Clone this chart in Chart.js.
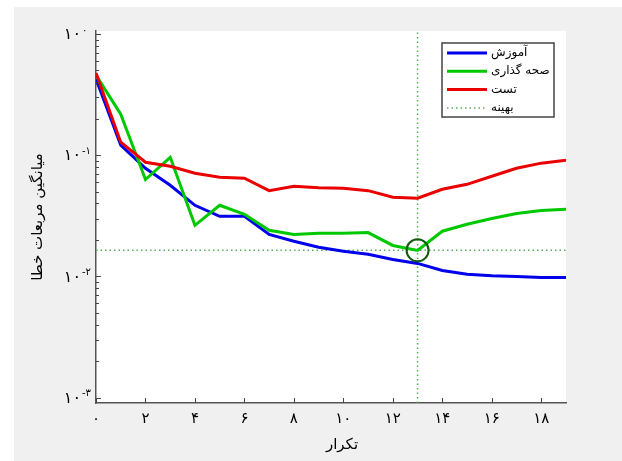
<!DOCTYPE html>
<html>
<head>
<meta charset="utf-8">
<script src="https://cdn.jsdelivr.net/npm/chart.js@4.4.1/dist/chart.umd.min.js"></script>
<style>
html, body { margin: 0; padding: 0; background: #fff; }
#wrap { position: absolute; left: 14px; top: 7px; width: 608px; height: 454px; background: #f0f0f0; }
</style>
</head>
<body>
<div id="wrap"><canvas id="perfChart" width="608" height="454"></canvas></div>
<script>
// epochs and mean squared error per data split
const epochs = [0, 1, 2, 3, 4, 5, 6, 7, 8, 9, 10, 11, 12, 13, 14, 15, 16, 17, 18, 19];
const trainErr = [0.425, 0.121, 0.078, 0.0565, 0.0386, 0.0313, 0.0313, 0.0222, 0.0195, 0.0174,
                  0.0161, 0.0152, 0.0138, 0.0128, 0.0112, 0.0104, 0.0101, 0.0100, 0.0098, 0.0098];
const validErr = [0.458, 0.218, 0.063, 0.096, 0.0264, 0.0386, 0.0325, 0.024, 0.0222, 0.0227,
                  0.0227, 0.023, 0.018, 0.0164, 0.0236, 0.0269, 0.030, 0.033, 0.035, 0.0358];
const testErr  = [0.476, 0.128, 0.0875, 0.081, 0.071, 0.0658, 0.0646, 0.051, 0.0555, 0.054,
                  0.0534, 0.051, 0.045, 0.0442, 0.0524, 0.0575, 0.067, 0.078, 0.086, 0.091];
const bestEpoch = 13;
const bestErr = 0.0164;

const xTicks = [0, 2, 4, 6, 8, 10, 12, 14, 16, 18];
const yDecades = [-3, -2, -1, 0];
const seriesNames = ['آموزش', 'صحه گذاری', 'تست', 'بهینه'];
const xTitle = 'تکرار';
const yTitle = 'میانگین مربعات خطا';

const xMin = 0, xMax = 19;
const yMin = 0.000902, yMax = 1.059;

const faFont = "'DejaVu Sans', sans-serif";
const toFa = s => String(s).replace(/[0-9]/g, d => '۰۱۲۳۴۵۶۷۸۹'[d]);
const pts = vals => epochs.map((e, i) => ({ x: e, y: vals[i] }));

const bluC = 'rgb(0, 0, 235)';
const grnC = 'rgb(0, 200, 0)';
const redC = 'rgb(235, 0, 0)';
const dotC = 'rgb(90, 170, 90)';

// white plot area, inward ticks, labels, titles and legend
const decor = {
    id: 'decor',
    beforeDraw(chart) {
        const { ctx, chartArea: a } = chart;
        ctx.save();
        ctx.fillStyle = '#fff';
        ctx.fillRect(a.left, a.top, a.right - a.left, a.bottom - a.top);
        ctx.restore();
    },
    afterDraw(chart) {
        const { ctx, chartArea: a, scales: { x, y } } = chart;
        ctx.save();
        ctx.strokeStyle = '#444';
        ctx.lineWidth = 1;
        ctx.beginPath();
        xTicks.forEach(v => {
            const px = Math.round(x.getPixelForValue(v)) + 0.5;
            ctx.moveTo(px, a.bottom);
            ctx.lineTo(px, a.bottom - 5);
        });
        yDecades.forEach(k => {
            const py = Math.round(y.getPixelForValue(Math.pow(10, k))) + 0.5;
            ctx.moveTo(a.left, py);
            ctx.lineTo(a.left + 5, py);
            if (k < 0) {
                for (let m = 2; m <= 9; m++) {
                    const pm = Math.round(y.getPixelForValue(m * Math.pow(10, k))) + 0.5;
                    ctx.moveTo(a.left, pm);
                    ctx.lineTo(a.left + 3, pm);
                }
            }
        });
        ctx.stroke();

        // tick labels
        ctx.fillStyle = '#000';
        ctx.textBaseline = 'middle';
        ctx.textAlign = 'center';
        ctx.font = '15px ' + faFont;
        xTicks.forEach(v => ctx.fillText(toFa(v), x.getPixelForValue(v), a.bottom + 16));
        yDecades.forEach(k => {
            const py = y.getPixelForValue(Math.pow(10, k));
            ctx.font = '16px ' + faFont;
            ctx.textAlign = 'right';
            ctx.fillText(toFa(10), a.left - 15, py + 1);
            ctx.font = '10px ' + faFont;
            ctx.textAlign = 'left';
            ctx.fillText(k < 0 ? '-' + toFa(-k) : toFa(k), a.left - 14, py - 4);
        });

        // axis titles
        ctx.font = '15px ' + faFont;
        ctx.textAlign = 'center';
        ctx.fillText(xTitle, (a.left + a.right) / 2 + 11, a.bottom + 42);
        ctx.save();
        ctx.translate(24, (a.top + a.bottom) / 2);
        ctx.rotate(-Math.PI / 2);
        ctx.fillText(yTitle, 0, 0);
        ctx.restore();

        // legend box
        const lx = 428, ly = 36, lw = 112, lh = 74;
        ctx.fillStyle = '#fff';
        ctx.fillRect(lx, ly, lw, lh);
        ctx.strokeStyle = '#444';
        ctx.lineWidth = 1.5;
        ctx.strokeRect(lx, ly, lw, lh);
        const sw = [bluC, grnC, redC, dotC];
        seriesNames.forEach((name, i) => {
            const ry = ly + 10 + i * 18.3;
            ctx.beginPath();
            ctx.strokeStyle = sw[i];
            if (i === 3) { ctx.lineWidth = 1.5; ctx.setLineDash([1.5, 3]); }
            else { ctx.lineWidth = 3; ctx.setLineDash([]); }
            ctx.moveTo(lx + 5, ry);
            ctx.lineTo(lx + 45, ry);
            ctx.stroke();
            ctx.setLineDash([]);
            ctx.fillStyle = '#000';
            ctx.font = '12px ' + faFont;
            ctx.textAlign = 'left';
            ctx.fillText(name, lx + 49, ry);
        });
        ctx.restore();
    }
};

new Chart(document.getElementById('perfChart'), {
    type: 'line',
    data: {
        datasets: [
            {
                label: 'best-circle',
                data: [{ x: bestEpoch, y: bestErr }],
                showLine: false,
                pointRadius: 11,
                pointBorderWidth: 2,
                pointBorderColor: 'rgb(15, 90, 15)',
                pointBackgroundColor: 'transparent',
                order: 0
            },
            {
                label: seriesNames[2],
                data: pts(testErr),
                borderColor: redC,
                borderWidth: 3,
                pointRadius: 0,
                order: 1
            },
            {
                label: seriesNames[1],
                data: pts(validErr),
                borderColor: grnC,
                borderWidth: 3,
                pointRadius: 0,
                order: 2
            },
            {
                label: seriesNames[0],
                data: pts(trainErr),
                borderColor: bluC,
                borderWidth: 3,
                pointRadius: 0,
                order: 3
            },
            {
                label: 'best-v',
                data: [{ x: bestEpoch, y: yMin }, { x: bestEpoch, y: yMax }],
                borderColor: dotC,
                borderWidth: 1.5,
                borderDash: [1.5, 3],
                pointRadius: 0,
                order: 4
            },
            {
                label: 'best-h',
                data: [{ x: xMin, y: bestErr }, { x: xMax, y: bestErr }],
                borderColor: dotC,
                borderWidth: 1.5,
                borderDash: [1.5, 3],
                pointRadius: 0,
                order: 4
            }
        ]
    },
    options: {
        responsive: false,
        animation: false,
        layout: { padding: { left: 82, top: 24, right: 56, bottom: 58 } },
        plugins: {
            legend: { display: false },
            tooltip: { enabled: false }
        },
        scales: {
            x: {
                type: 'linear',
                min: xMin,
                max: xMax,
                grid: { display: false, drawTicks: false },
                border: { display: true, color: '#555', width: 1.5 },
                ticks: { display: false }
            },
            y: {
                type: 'logarithmic',
                min: yMin,
                max: yMax,
                grid: { display: false, drawTicks: false },
                border: { display: true, color: '#555', width: 1.5 },
                ticks: { display: false }
            }
        }
    },
    plugins: [decor]
});
</script>
</body>
</html>
